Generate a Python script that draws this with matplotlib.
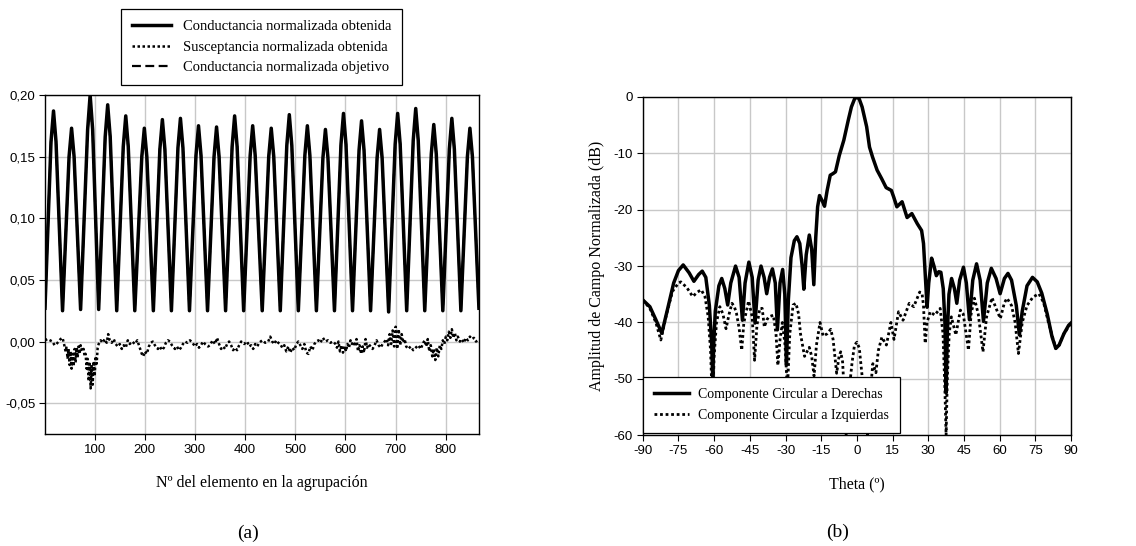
import matplotlib
matplotlib.use('Agg')
import matplotlib.pyplot as plt
from matplotlib.ticker import FuncFormatter

plt.rcParams['axes.unicode_minus'] = False
serif = ['Liberation Serif', 'DejaVu Serif']
sans = ['Liberation Sans', 'DejaVu Sans']

# ---- (a) conductance / susceptance per element ----
peak_x = [18, 54, 91, 126, 162, 199, 235, 271, 307, 343, 379, 415,
          452, 488, 524, 560, 596, 632, 668, 704, 740, 776, 812, 848]
peak_g = [0.187, 0.173, 0.200, 0.192, 0.183, 0.173, 0.180, 0.181, 0.175, 0.174, 0.183, 0.175,
          0.173, 0.184, 0.175, 0.172, 0.185, 0.179, 0.172, 0.185, 0.189, 0.176, 0.181, 0.173]
shoulder_g = [0.162, 0.150, 0.172, 0.166, 0.158, 0.150, 0.156, 0.157, 0.151, 0.150, 0.158, 0.151,
              0.150, 0.159, 0.151, 0.149, 0.160, 0.155, 0.149, 0.160, 0.163, 0.152, 0.156, 0.150]
peak_obj = [0.180, 0.165, 0.190, 0.185, 0.178, 0.170, 0.177, 0.178, 0.172, 0.170, 0.178, 0.172,
            0.170, 0.180, 0.172, 0.170, 0.180, 0.175, 0.168, 0.180, 0.183, 0.172, 0.178, 0.165]
trough_x = [1, 36, 72, 108, 144, 180, 217, 253, 289, 325, 361, 397, 434,
            470, 506, 542, 578, 614, 650, 686, 722, 758, 794, 830, 866]
trough_g = [0.027, 0.025, 0.026, 0.026, 0.025, 0.025, 0.025, 0.025, 0.025, 0.025, 0.025, 0.025, 0.025,
            0.025, 0.025, 0.025, 0.025, 0.025, 0.025, 0.024, 0.025, 0.025, 0.025, 0.025, 0.027]

b_x = [1, 6, 11, 16, 20, 24, 28, 32, 36, 39,
       42, 44, 46, 48, 50, 52, 54, 56, 58, 60, 62, 64, 66, 68, 70, 72, 74, 76, 78, 80,
       82, 84, 86, 88, 90, 92, 94, 96, 98, 100, 102, 104, 106, 108,
       112, 116, 120, 124, 127, 130, 134, 138, 142, 146, 150, 154, 158, 162, 166, 170,
       175, 180, 185, 190, 194, 197, 200, 204, 208, 212, 216, 220, 226, 230, 234, 238,
       242, 246, 250, 254, 260, 264, 268, 272, 276, 280, 285, 290, 295, 300, 304, 308,
       312, 316, 320, 326, 330, 335, 340, 344, 348, 352, 356, 360, 364, 368, 372, 376,
       380, 384, 388, 392, 398, 404, 408, 412, 416, 420, 424, 428, 434, 440, 446, 450,
       454, 458, 462, 466, 470, 474, 478, 482, 486, 490, 494, 498, 502, 506, 510, 514,
       518, 522, 526, 530, 534, 538, 542, 546, 550, 555, 560, 565, 570, 575, 580, 583,
       586, 589, 592, 595, 598, 601, 604, 607, 610, 613, 616, 619, 622, 625, 628, 631,
       634, 637, 640, 643, 646, 650, 654, 658, 662, 666, 670, 674, 678, 682, 685, 688,
       691, 694, 697, 700, 703, 706, 709, 712, 715, 718, 721, 725, 730, 735, 740, 745,
       750, 755, 758, 761, 764, 767, 770, 773, 776, 779, 782, 785, 788, 791, 794, 797,
       800, 803, 806, 809, 812, 815, 818, 821, 824, 828, 832, 836, 840, 844, 848, 852,
       856, 860, 864]
b_y = [0.001, 0.002, 0.001, 0.000, -0.003, -0.002, 0.000, 0.002, 0.003, -0.002,
       -0.008, -0.004, -0.014, -0.006, -0.019, -0.008, -0.022, -0.010, -0.020, -0.006,
       -0.017, -0.005, -0.013, -0.004, -0.010, -0.003, -0.006, -0.008, -0.006, -0.012,
       -0.010, -0.022, -0.014, -0.032, -0.018, -0.038, -0.020, -0.035, -0.016, -0.028,
       -0.012, -0.018, -0.005, -0.002,
       0.001, -0.001, 0.002, -0.001, 0.006, 0.001, -0.001, 0.002, -0.002, -0.004,
       -0.002, -0.006, -0.003, -0.005, 0.001, -0.002,
       0.000, -0.002, 0.001, -0.005, -0.010, -0.012, -0.008, -0.010, -0.004, -0.001,
       0.000, -0.003, -0.006, -0.004, -0.007, -0.005,
       -0.001, 0.001, 0.000, -0.003, -0.006, -0.004, -0.007, -0.005, -0.002, 0.000,
       -0.001, 0.001, -0.001, -0.004, -0.002, -0.005,
       -0.003, 0.000, -0.002, -0.004, -0.003, 0.001, -0.002, 0.003, -0.002, -0.006,
       -0.004, -0.006, -0.002, 0.000, -0.003, -0.007,
       -0.005, -0.007, -0.003, 0.000, -0.002, 0.000, -0.004, -0.003, -0.006, -0.002,
       -0.004, -0.001, 0.001, -0.001, 0.000, 0.004,
       0.000, -0.002, 0.001, -0.001, -0.002, -0.005, -0.003, -0.008, -0.004, -0.009,
       -0.005, -0.007, -0.002, 0.000, -0.003, -0.006,
       -0.002, -0.009, -0.010, -0.004, -0.007, -0.002, 0.000, 0.001, -0.001, 0.003,
       0.000, 0.001, -0.001, 0.000, -0.002, -0.005,
       0.000, -0.008, -0.003, -0.009, -0.004, -0.008, -0.002, -0.005, 0.001, -0.002,
       0.000, -0.004, 0.002, -0.008, -0.003, -0.010,
       -0.004, -0.009, 0.002, -0.005, -0.002, -0.004, -0.006, -0.003, 0.001, -0.003,
       -0.005, -0.002, 0.000, 0.002, -0.003, 0.006,
       -0.002, 0.009, -0.004, 0.012, -0.006, 0.010, -0.003, 0.006, -0.001, 0.002,
       -0.004, -0.006, -0.004, -0.007, -0.005, -0.003,
       -0.006, -0.001, 0.001, -0.004, 0.002, -0.008, -0.003, -0.012, -0.006, -0.015,
       -0.005, -0.012, -0.003, -0.006, 0.001, -0.002,
       0.004, 0.001, 0.008, 0.003, 0.010, 0.003, 0.007, 0.001, 0.004, 0.000,
       0.002, -0.001, 0.003, 0.001, 0.004, 0.002,
       0.003, 0.000, 0.001]

# ---- (b) radiation pattern ----
rhcp_t = [-90, -87, -84.5, -82, -79.5, -77, -75, -73, -70.5, -68.5, -66.5, -65, -63.5, -62,
          -61, -60.6, -60.2, -59.5, -58, -56.8, -55.5, -54.3, -53, -51, -49.5, -48.1, -47,
          -45.4, -44, -42.8, -41.5, -40.3, -39, -37.9, -36.7, -35.5, -34.3, -33.4, -32.3,
          -31.2, -30.3, -29.6, -28.8, -27.7, -26.3, -25.2, -24, -23, -22.3, -21.3, -20,
          -19, -18.1, -17.3, -16.5, -15.7, -14.5, -13.6, -12.5, -11.2, -10, -9, -7.4,
          -5.5, -3.6, -2.3, -1, 0, 1, 2.2, 4.1, 5.3, 6.6, 8.5, 10.4, 12.3, 14.5, 15.5,
          16.8, 19, 21.1, 23.1, 25.4, 27.2, 28, 28.8, 29.5, 30.2, 31.4, 32.4, 33.4, 34.4,
          35.3, 36.3, 37, 37.5, 38, 38.7, 39.8, 41, 42, 43.2, 44.8, 46, 47.3, 48.7, 50.3,
          51.8, 53.2, 54.8, 56.5, 58.5, 60.2, 62, 63.5, 65, 67, 68.3, 69.5, 71.5, 73.8,
          75.8, 77.7, 80, 82, 83.6, 85, 87, 89, 90]
rhcp_db = [-36.0, -37.2, -39.5, -41.9, -37.5, -33.0, -30.8, -29.8, -31.2, -32.7, -31.5, -30.9,
           -32.0, -37.0, -44.0, -50.0, -44.0, -38.0, -33.5, -32.2, -34.0, -36.9, -33.0, -30.0,
           -32.0, -39.6, -33.0, -29.3, -32.0, -40.1, -32.5, -30.0, -32.0, -34.9, -32.0, -30.5,
           -33.0, -41.3, -33.0, -30.6, -35.0, -47.5, -36.0, -28.5, -25.5, -24.8, -26.0, -30.0,
           -34.1, -28.0, -24.5, -27.0, -33.3, -25.0, -19.5, -17.5, -18.5, -19.4, -16.6, -13.9,
           -13.6, -13.3, -10.4, -7.7, -4.1, -1.8, -0.4, 0.0, -0.4, -1.8, -5.3, -8.9, -10.7,
           -13.0, -14.5, -16.1, -16.6, -17.8, -19.5, -18.6, -21.4, -20.7, -22.5, -23.7, -26.0,
           -32.0, -37.3, -33.0, -28.6, -30.0, -31.7, -31.0, -31.1, -34.0, -40.0, -52.5, -42.0,
           -35.0, -32.2, -34.0, -36.6, -32.5, -30.2, -33.0, -39.5, -32.5, -29.6, -32.5, -39.8,
           -33.0, -30.4, -32.2, -34.9, -32.2, -31.3, -32.5, -37.0, -42.2, -38.0, -33.5, -32.0,
           -32.8, -34.8, -38.5, -42.5, -44.6, -44.0, -42.0, -40.5, -40.1]

lhcp_t = [-90, -87, -84.5, -82.4, -80, -77.5, -75, -74, -71.5, -69, -67, -65.4, -63.8, -62.5,
          -61.5, -60.7, -60, -59, -57.6, -56.3, -55, -53.7, -52.5, -51.5, -50.6, -49.5, -48.4,
          -47.5, -45.5, -44, -43, -42, -40.8, -39.8, -38.9, -37.8, -37, -35.1, -34, -33.2,
          -32.3, -31.3, -30.2, -29.2, -28.2, -26.8, -25.6, -24.5, -23.7, -22, -20, -19, -18,
          -17, -15.5, -14.2, -12.5, -11, -10, -8.5, -7.5, -6.8, -6, -5, -4.5, -3.5, -2, -1,
          0, 1, 2.2, 3.5, 4.5, 5.5, 6.7, 8, 9, 10.5, 12.4, 14.3, 15.6, 17.5, 19.4, 22, 23.9,
          26.4, 27.4, 28, 28.7, 29.5, 30.8, 32.7, 35, 36.2, 37, 37.5, 38, 38.8, 39.7, 41.6,
          43.5, 44.7, 46.9, 48, 49.4, 51, 53, 54.5, 56.8, 58.5, 60.3, 62, 63.1, 65, 66.5,
          67.9, 69.5, 71.5, 74, 76.5, 78.5, 80.5, 83.6, 85, 87, 90]
lhcp_db = [-36.0, -37.5, -40.0, -43.1, -38.5, -34.5, -33.0, -32.8, -33.8, -35.4, -34.6, -34.2,
           -35.5, -39.0, -45.0, -55.0, -46.0, -40.0, -37.2, -38.5, -41.1, -38.5, -36.6, -37.2,
           -38.4, -41.0, -44.9, -40.0, -36.2, -39.0, -46.7, -40.5, -37.5, -37.5, -40.8, -39.5,
           -39.0, -38.7, -42.0, -47.6, -43.0, -40.0, -44.0, -52.0, -42.0, -36.9, -36.6, -38.5,
           -42.0, -46.0, -44.4, -46.0, -49.5, -44.0, -40.0, -42.4, -42.0, -41.2, -43.0, -49.0,
           -46.0, -45.2, -47.0, -55.0, -60.0, -53.0, -47.0, -44.0, -43.5, -44.5, -49.5, -56.0,
           -60.0, -53.0, -47.3, -48.9, -45.0, -42.6, -44.0, -40.0, -43.0, -38.1, -39.6, -36.6,
           -37.2, -34.6, -34.9, -37.0, -43.7, -40.0, -38.1, -38.7, -37.5, -42.0, -52.0, -60.0,
           -50.0, -42.0, -39.0, -42.2, -37.8, -38.5, -44.9, -38.5, -35.7, -38.5, -45.2, -39.0,
           -35.6, -37.5, -39.3, -36.5, -35.7, -37.0, -40.0, -45.5, -40.0, -37.0, -35.5, -34.9,
           -36.5, -40.0, -44.6, -44.0, -42.0, -40.1]

# interleave troughs, shoulders and peaks into one curve
g_x, g_y, o_y = [], [], []
for i in range(len(peak_x)):
    g_x += [trough_x[i], peak_x[i] - 5, peak_x[i], peak_x[i] + 5]
    g_y += [trough_g[i], shoulder_g[i], peak_g[i], shoulder_g[i]]
    o_y += [trough_g[i], shoulder_g[i], peak_obj[i], shoulder_g[i]]
g_x.append(trough_x[-1])
g_y.append(trough_g[-1])
o_y.append(trough_g[-1])

fig = plt.figure(figsize=(11.36, 5.46), dpi=100)
ax1 = fig.add_axes([0.0396, 0.2051, 0.382, 0.621])
ax2 = fig.add_axes([0.5658, 0.2027, 0.377, 0.620])

grid_c = '#c8c8c8'
for ax in (ax1, ax2):
    ax.grid(True, color=grid_c, linewidth=1.0)
    ax.set_axisbelow(True)
    for s in ax.spines.values():
        s.set_linewidth(1.0)
        s.set_color('black')
    ax.tick_params(direction='out', length=4, width=0.8, labelsize=9.5, pad=3)

# (a)
ax1.plot(b_x, b_y, color='black', linestyle=(0, (1, 1)), linewidth=1.8,
         label='Susceptancia normalizada obtenida', zorder=3)
ax1.plot(g_x, g_y, color='black', linestyle='-', linewidth=2.5,
         label='Conductancia normalizada obtenida', zorder=4)
ax1.plot(g_x, o_y, color='black', linestyle=(0, (4, 2)), linewidth=1.6,
         label='Conductancia normalizada objetivo', zorder=5)
ax1.set_xlim(1, 866)
ax1.set_ylim(-0.075, 0.20)
ax1.set_xticks([100, 200, 300, 400, 500, 600, 700, 800])
ax1.set_yticks([-0.05, 0.0, 0.05, 0.10, 0.15, 0.20])
ax1.yaxis.set_major_formatter(FuncFormatter(lambda v, p: f'{v:.2f}'.replace('.', ',')))
ax1.set_xlabel('Nº del elemento en la agrupación', family=serif, fontsize=11.5, labelpad=14)
h, l = ax1.get_legend_handles_labels()
order = [1, 0, 2]
leg1 = ax1.legend([h[i] for i in order], [l[i] for i in order], loc='upper center',
                  bbox_to_anchor=(0.2302, 0.9835), bbox_transform=fig.transFigure,
                  borderaxespad=0, fancybox=False, edgecolor='black', framealpha=1,
                  prop={'family': serif, 'size': 10.5}, handlelength=2.7,
                  labelspacing=0.5, borderpad=0.75, handletextpad=0.8)
leg1.get_frame().set_linewidth(0.9)

# (b)
ax2.plot(rhcp_t, rhcp_db, color='black', linewidth=2.5, label='Componente Circular a Derechas')
ax2.plot(lhcp_t, lhcp_db, color='black', linewidth=2.0, linestyle=(0, (1, 1)),
         label='Componente Circular a Izquierdas')
ax2.set_xlim(-90, 90)
ax2.set_ylim(-60, 0)
ax2.set_xticks(range(-90, 91, 15))
ax2.set_yticks(range(-60, 1, 10))
ax2.set_xlabel('Theta (º)', family=serif, fontsize=11.5, labelpad=14)
ax2.set_ylabel('Amplitud de Campo Normalizada (dB)', family=serif, fontsize=11.5, labelpad=6)
leg2 = ax2.legend(loc='lower left', bbox_to_anchor=(0.0, 0.006), borderaxespad=0,
                  fancybox=False, edgecolor='black', framealpha=1,
                  prop={'family': serif, 'size': 10.0}, handlelength=2.5,
                  labelspacing=0.6, borderpad=0.8, handletextpad=0.7)
leg2.get_frame().set_linewidth(0.9)

for lbl in ax1.get_xticklabels() + ax1.get_yticklabels() + ax2.get_xticklabels() + ax2.get_yticklabels():
    lbl.set_family(sans)

fig.text(248 / 1136, 1 - 533 / 546, '(a)', family=serif, fontsize=14, ha='center', va='center')
fig.text(838 / 1136, 1 - 532 / 546, '(b)', family=serif, fontsize=14, ha='center', va='center')

fig.savefig('out.png', dpi=100)
